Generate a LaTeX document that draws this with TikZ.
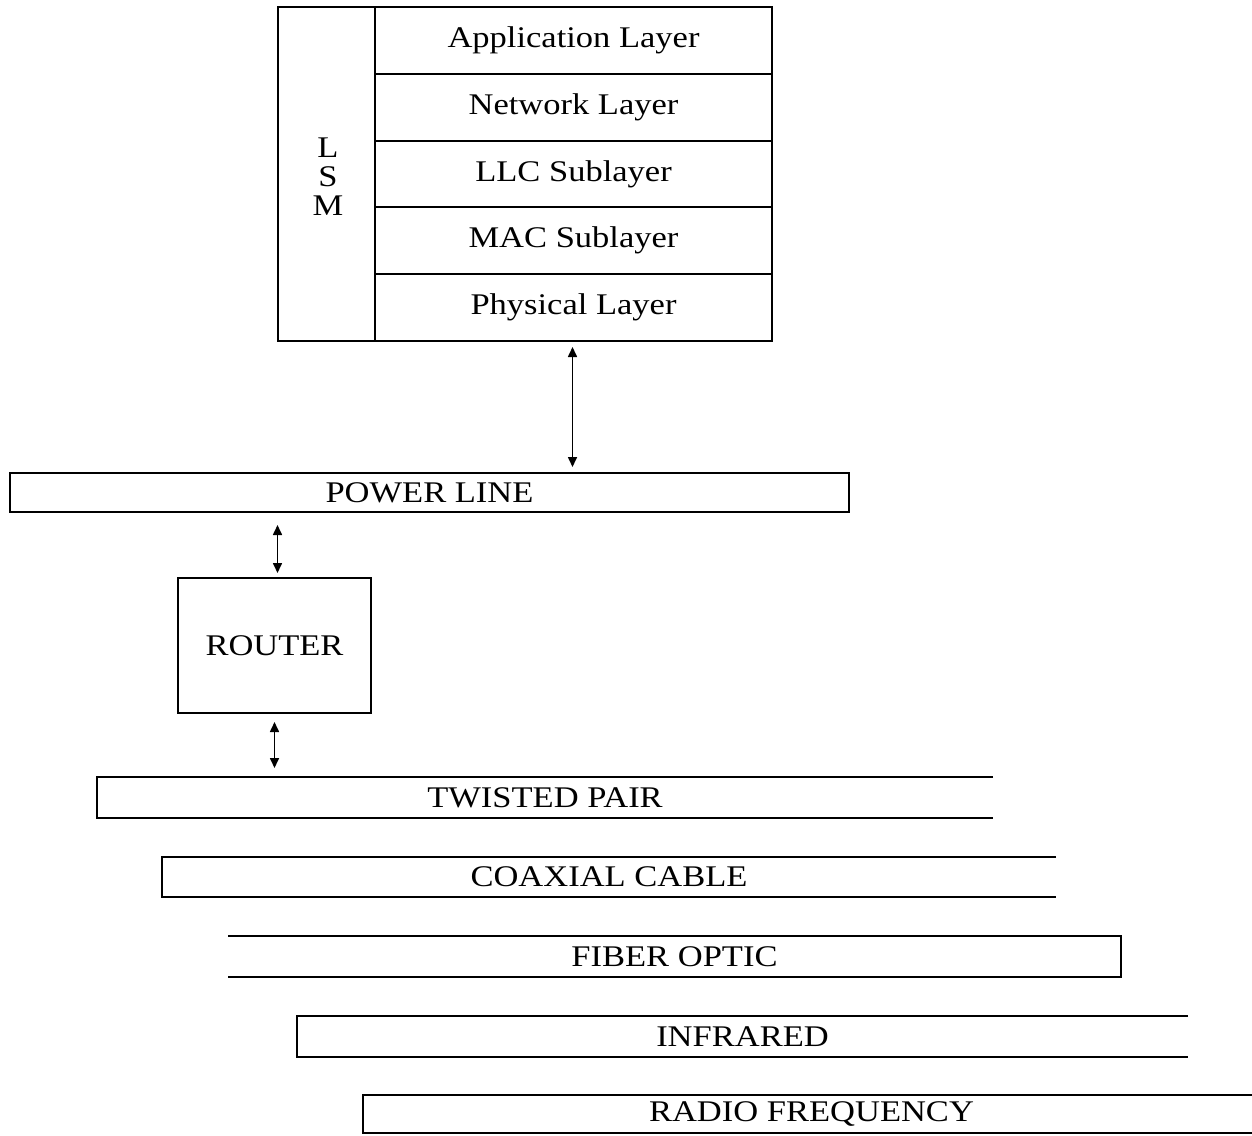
\documentclass[tikz,border=0pt]{standalone}
\usepackage{fontspec}
\setmainfont{Liberation Serif}[FakeStretch=1.15]
\usetikzlibrary{arrows.meta}
\begin{document}
\begin{tikzpicture}[x=0.5pt,y=-0.5pt,
  every node/.style={font=\fontsize{15}{13}\selectfont, inner sep=0pt, outer sep=0pt},
  layer/.style={draw, line width=1pt, minimum width=198.5pt, minimum height=33.4pt},
  bar/.style={minimum height=20.5pt},
  edge/.style={line width=1.1pt},
  link/.style={line width=0.8pt, {Triangle[length=5pt,width=4.5pt]}-{Triangle[length=5pt,width=4.5pt]}}]
\useasboundingbox (0,0) rectangle (1252,1135);
% protocol stack
\node[draw, line width=1pt, minimum width=48.5pt, minimum height=167pt] (lsm) at (326.5,174) {};
\node (lsmL) at (328,148) {L};
\node (lsmS) at (328,177) {S};
\node (lsmM) at (328,206) {M};
\node[layer] (app) at (573.5,40.4) {Application Layer};
\node[layer] (net) at (573.5,107.2) {Network Layer};
\node[layer] (llc) at (573.5,174) {LLC Sublayer};
\node[layer] (mac) at (573.5,240.8) {MAC Sublayer};
\node[layer] (phy) at (573.5,307.6) {Physical Layer};
% media
\node[bar, minimum width=419.5pt, minimum height=19.5pt] (power) at (429.5,492.5) {POWER LINE};
\draw[edge] (power.north west) rectangle (power.south east);
\node[draw, line width=1pt, minimum width=96.5pt, minimum height=67.5pt] (router) at (274.5,645.5) {ROUTER};
\node[bar, minimum width=448pt] (tp) at (545,797.5) {TWISTED PAIR};
\node[bar, minimum width=447pt, minimum height=20pt] (coax) at (609,877) {COAXIAL CABLE};
\node[bar, minimum width=446.5pt] (fiber) at (674.5,956.5) {FIBER OPTIC};
\node[bar, minimum width=445.5pt] (ir) at (742.5,1036.5) {INFRARED};
\node[bar, minimum width=448.5pt, minimum height=19pt] (rf) at (811.5,1114) {RADIO FREQUENCY};
\draw[edge] (tp.north east) -- (tp.north west) -- (tp.south west) -- (tp.south east);
\draw[edge] (coax.north east) -- (coax.north west) -- (coax.south west) -- (coax.south east);
\draw[edge] (fiber.north west) -- (fiber.north east) -- (fiber.south east) -- (fiber.south west);
\draw[edge] (ir.north east) -- (ir.north west) -- (ir.south west) -- (ir.south east);
\draw[edge] (rf.north east) -- (rf.north west) -- (rf.south west) -- (rf.south east);
% connectors
\draw[link, shorten <=3pt, shorten >=3pt] ([xshift=-0.5pt]phy.south) -- ([xshift=-0.5pt]phy.south |- power.north);
\draw[link, shorten <=6.5pt, shorten >=2.5pt] ([xshift=1.5pt]router.north |- power.south) -- ([xshift=1.5pt]router.north);
\draw[link, shorten <=4.5pt, shorten >=4.5pt] (router.south) -- (router.south |- tp.north);
\end{tikzpicture}
\end{document}
